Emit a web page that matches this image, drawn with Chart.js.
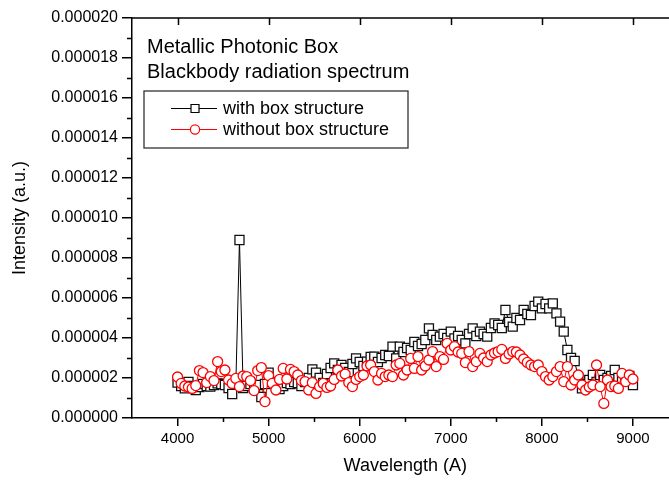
<!DOCTYPE html>
<html>
<head>
<meta charset="utf-8">
<script src="https://cdn.jsdelivr.net/npm/chart.js@4"></script>
<style>
  html, body { margin: 0; padding: 0; background: #fff; overflow: hidden; }
  #wrap { width: 669px; height: 483px; overflow: hidden; }
  canvas { display: block; }
</style>
</head>
<body>
<div id="wrap"><canvas id="c" width="700" height="483"></canvas></div>
<script>
// ---------------- data ----------------
const wavelength = [
  4000,4040,4080,4120,4160,4200,4240,4280,4320,4360,
  4400,4440,4480,4520,4560,4600,4640,4680,4720,4760,
  4800,4840,4880,4920,4960,5000,5040,5080,5120,5160,
  5200,5240,5280,5320,5360,5400,5440,5480,5520,5560,
  5600,5640,5680,5720,5760,5800,5840,5880,5920,5960,
  6000,6040,6080,6120,6160,6200,6240,6280,6320,6360,
  6400,6440,6480,6520,6560,6600,6640,6680,6720,6760,
  6800,6840,6880,6920,6960,7000,7040,7080,7120,7160,
  7200,7240,7280,7320,7360,7400,7440,7480,7520,7560,
  7600,7640,7680,7720,7760,7800,7840,7880,7920,7960,
  8000,8040,8080,8120,8160,8200,8240,8280,8320,8360,
  8400,8440,8480,8520,8560,8600,8640,8680,8720,8760,
  8800,8840,8880,8920,8960,9000
];
const withBox = [
  1.77e-6,1.60e-6,1.48e-6,1.80e-6,1.60e-6,1.40e-6,1.55e-6,1.70e-6,1.60e-6,1.57e-6,
  1.65e-6,1.73e-6,1.70e-6,1.65e-6,1.50e-6,1.20e-6,1.70e-6,8.90e-6,1.50e-6,1.60e-6,
  1.70e-6,1.50e-6,1.65e-6,1.05e-6,1.70e-6,2.27e-6,1.80e-6,1.60e-6,1.45e-6,1.60e-6,
  1.75e-6,1.70e-6,1.80e-6,1.75e-6,1.60e-6,1.80e-6,2.00e-6,2.43e-6,2.27e-6,2.00e-6,
  1.75e-6,2.20e-6,2.50e-6,2.73e-6,2.40e-6,2.65e-6,2.50e-6,2.30e-6,2.70e-6,2.98e-6,
  2.80e-6,2.60e-6,2.82e-6,3.05e-6,3.07e-6,2.80e-6,3.00e-6,3.15e-6,3.10e-6,3.57e-6,
  2.98e-6,3.57e-6,3.30e-6,3.50e-6,3.40e-6,3.80e-6,3.60e-6,3.70e-6,3.90e-6,4.48e-6,
  4.15e-6,3.90e-6,4.07e-6,4.20e-6,4.00e-6,4.32e-6,3.98e-6,4.10e-6,3.90e-6,3.73e-6,
  4.20e-6,4.48e-6,4.10e-6,4.32e-6,4.20e-6,4.07e-6,4.50e-6,4.73e-6,4.65e-6,4.50e-6,
  5.40e-6,4.80e-6,4.57e-6,5.00e-6,4.90e-6,5.40e-6,5.20e-6,5.15e-6,5.60e-6,5.82e-6,
  5.48e-6,5.70e-6,5.48e-6,5.73e-6,5.23e-6,4.82e-6,4.32e-6,3.40e-6,3.00e-6,2.85e-6,
  2.00e-6,1.48e-6,1.70e-6,1.90e-6,2.15e-6,1.80e-6,2.15e-6,1.90e-6,2.00e-6,2.10e-6,
  2.40e-6,2.00e-6,1.90e-6,1.82e-6,2.10e-6,1.65e-6
];
const withoutBox = [
  2.05e-6,1.73e-6,1.60e-6,1.55e-6,1.48e-6,1.62e-6,2.37e-6,2.27e-6,1.77e-6,2.07e-6,
  1.87e-6,2.82e-6,2.32e-6,2.40e-6,1.90e-6,1.73e-6,1.98e-6,1.57e-6,2.10e-6,2.07e-6,
  1.87e-6,1.37e-6,2.37e-6,2.52e-6,0.82e-6,2.12e-6,1.73e-6,1.40e-6,1.93e-6,2.48e-6,
  1.95e-6,2.43e-6,2.32e-6,2.15e-6,1.87e-6,1.82e-6,1.40e-6,1.77e-6,1.23e-6,1.57e-6,
  1.73e-6,1.53e-6,1.60e-6,1.93e-6,2.40e-6,2.10e-6,2.20e-6,1.77e-6,1.57e-6,1.93e-6,
  2.07e-6,2.15e-6,2.60e-6,2.65e-6,2.32e-6,1.90e-6,2.23e-6,2.07e-6,2.15e-6,2.07e-6,
  2.65e-6,2.73e-6,2.15e-6,2.40e-6,2.98e-6,2.48e-6,3.07e-6,2.40e-6,2.60e-6,2.90e-6,
  3.32e-6,2.57e-6,3.07e-6,2.93e-6,3.73e-6,3.40e-6,3.57e-6,3.30e-6,3.23e-6,2.77e-6,
  3.32e-6,2.57e-6,2.82e-6,3.23e-6,3.00e-6,2.82e-6,3.15e-6,3.25e-6,3.32e-6,3.43e-6,
  2.98e-6,3.20e-6,3.32e-6,3.30e-6,3.15e-6,2.95e-6,2.78e-6,2.65e-6,2.57e-6,2.65e-6,
  2.32e-6,2.07e-6,1.90e-6,2.07e-6,2.32e-6,2.57e-6,1.82e-6,2.57e-6,1.65e-6,1.90e-6,
  2.15e-6,1.65e-6,1.40e-6,1.55e-6,1.65e-6,2.65e-6,1.57e-6,0.73e-6,1.90e-6,1.57e-6,
  1.60e-6,1.48e-6,2.23e-6,1.82e-6,2.15e-6,1.95e-6
];
const seriesLabels = ['with box structure', 'without box structure'];
const xTickValues = [4000, 5000, 6000, 7000, 8000, 9000];
const xTickLabels = ['4000', '5000', '6000', '7000', '8000', '9000'];
const xMinorTicks = [4500, 5500, 6500, 7500, 8500];
const yTickValues = [0, 2e-6, 4e-6, 6e-6, 8e-6, 10e-6, 12e-6, 14e-6, 16e-6, 18e-6, 20e-6];
const yTickLabels = ['0.000000','0.000002','0.000004','0.000006','0.000008','0.000010',
                     '0.000012','0.000014','0.000016','0.000018','0.000020'];
const yMinorTicks = [1e-6, 3e-6, 5e-6, 7e-6, 9e-6, 11e-6, 13e-6, 15e-6, 17e-6, 19e-6];
const annotationLines = ['Metallic Photonic Box', 'Blackbody radiation spectrum'];
const xTitle = 'Wavelength (A)';
const yTitle = 'Intensity (a.u.)';

// ---------------- chart ----------------
const FONT = '"Liberation Sans", Arial, Helvetica, sans-serif';
Chart.defaults.font.family = FONT;
Chart.defaults.color = '#000';

const toPoints = (ys) => ys.map((v, i) => ({ x: wavelength[i], y: v }));

const decor = {
  id: 'decor',
  afterDraw(chart) {
    const ctx = chart.ctx;
    const xs = chart.scales.x, ys = chart.scales.y, a = chart.chartArea;
    ctx.save();
    ctx.strokeStyle = '#000';
    ctx.lineWidth = 1.5;
    ctx.beginPath();
    ctx.moveTo(a.left - 0.75, a.top);
    ctx.lineTo(a.right, a.top);
    xTickValues.forEach(v => {
      const px = Math.round(xs.getPixelForValue(v)) + 0.5;
      ctx.moveTo(px, a.top);
      ctx.lineTo(px, a.top + 7);
    });
    xMinorTicks.forEach(v => {
      const px = Math.round(xs.getPixelForValue(v)) + 0.5;
      ctx.moveTo(px, a.bottom);
      ctx.lineTo(px, a.bottom + 4);
    });
    yMinorTicks.forEach(v => {
      const py = Math.round(ys.getPixelForValue(v)) + 0.5;
      ctx.moveTo(a.left - 5, py);
      ctx.lineTo(a.left, py);
    });
    ctx.stroke();

    ctx.fillStyle = '#000';
    ctx.font = '20px ' + FONT;
    ctx.textAlign = 'left';
    ctx.textBaseline = 'alphabetic';
    ctx.fillText(annotationLines[0], 147, 53);
    ctx.fillText(annotationLines[1], 147, 78);

    ctx.strokeStyle = '#333';
    ctx.lineWidth = 1.3;
    ctx.strokeRect(144, 91, 264, 57);

    const ds = chart.data.datasets;
    const rows = [108, 129];
    ctx.font = '18px ' + FONT;
    ctx.textBaseline = 'middle';
    ds.forEach((d, i) => {
      const yy = rows[i];
      ctx.strokeStyle = d.borderColor;
      ctx.lineWidth = 1;
      ctx.beginPath();
      ctx.moveTo(171, yy + 0.5);
      ctx.lineTo(217, yy + 0.5);
      ctx.stroke();
      ctx.fillStyle = '#fff';
      ctx.lineWidth = 1.2;
      ctx.beginPath();
      if (d.pointStyle === 'rect') {
        ctx.rect(191, yy - 3.5, 8, 8);
      } else {
        ctx.arc(195, yy + 0.5, 4.6, 0, Math.PI * 2);
      }
      ctx.fill();
      ctx.stroke();
      ctx.fillStyle = '#000';
      ctx.fillText(d.label, 223, yy + 1);
    });
    ctx.restore();
  }
};

new Chart(document.getElementById('c'), {
  type: 'scatter',
  data: {
    datasets: [
      {
        label: seriesLabels[0],
        data: toPoints(withBox),
        showLine: true,
        borderColor: '#000',
        borderWidth: 1,
        pointStyle: 'rect',
        pointRadius: 6.4,
        pointBorderColor: '#111',
        pointBackgroundColor: '#fff',
        pointBorderWidth: 1.3,
        order: 2
      },
      {
        label: seriesLabels[1],
        data: toPoints(withoutBox),
        showLine: true,
        borderColor: '#ff0000',
        borderWidth: 1,
        pointStyle: 'circle',
        pointRadius: 5,
        pointBorderColor: '#ff0000',
        pointBackgroundColor: '#fff',
        pointBorderWidth: 1.3,
        order: 1
      }
    ]
  },
  options: {
    responsive: false,
    animation: false,
    devicePixelRatio: 1,
    layout: { padding: { left: 0, top: 18, right: 21.5, bottom: 0 } },
    plugins: { legend: { display: false }, tooltip: { enabled: false } },
    scales: {
      x: {
        type: 'linear',
        min: 3500,
        max: 9500,
        afterBuildTicks: (s) => { s.ticks = xTickValues.map(v => ({ value: v })); },
        afterFit: (s) => { s.height = 65; },
        ticks: {
          font: { size: 15 },
          color: '#000',
          padding: 4,
          maxRotation: 0,
          callback: (v, i) => xTickLabels[i]
        },
        grid: { drawOnChartArea: false, drawTicks: true, tickLength: 8, color: '#000', lineWidth: 1.5 },
        border: { display: true, color: '#000', width: 1.5 },
        title: { display: true, text: xTitle, font: { size: 18 }, color: '#000', padding: { top: 0, bottom: 6 } }
      },
      y: {
        type: 'linear',
        min: 0,
        max: 20e-6,
        afterBuildTicks: (s) => { s.ticks = yTickValues.map(v => ({ value: v })); },
        afterFit: (s) => { s.width = 132; },
        ticks: {
          font: { size: 16 },
          color: '#000',
          padding: 4,
          callback: (v, i) => yTickLabels[i]
        },
        grid: { drawOnChartArea: false, drawTicks: true, tickLength: 10, color: '#000', lineWidth: 1.5 },
        border: { display: true, color: '#000', width: 1.5 },
        title: { display: true, text: yTitle, font: { size: 18 }, color: '#000', padding: { top: 9, bottom: 0 } }
      }
    }
  },
  plugins: [decor]
});
</script>
</body>
</html>
